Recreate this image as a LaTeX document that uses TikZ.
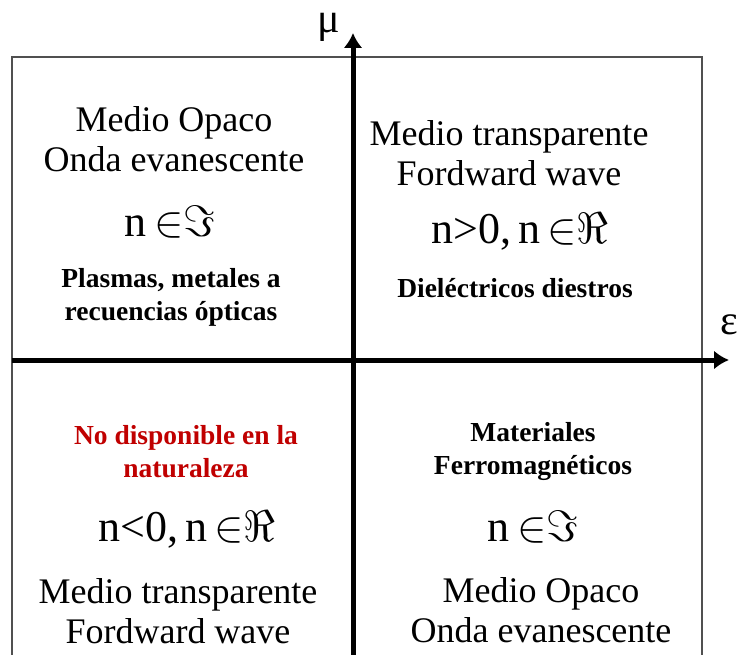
\RequirePackage{fix-cm}
\documentclass[tikz,border=0pt]{standalone}
\usepackage{fontspec}
\setmainfont{Liberation Serif}
\usetikzlibrary{arrows.meta}
\definecolor{frameGray}{HTML}{505050}
\definecolor{natRed}{HTML}{C00000}

\begin{document}
\begin{tikzpicture}[
  x=1pt, y=-1pt,
  >={Latex[length=15pt,width=19pt]},
  every node/.style={inner sep=0pt, align=center},
  plain/.style={font=\fontsize{36}{40}\selectfont},
  bold/.style={font=\fontsize{27.5}{33}\selectfont\bfseries},
  index/.style={font=\fontsize{44}{48}\selectfont},
  axis/.style={line width=5pt, ->}
]
  \useasboundingbox (0,0) rectangle (738,655);

  \coordinate (FB) at (12,655);
  \coordinate (FT) at (12,57);
  \coordinate (GT) at (702,57);
  \coordinate (GB) at (702,655);

  % Frame (open at the bottom)
  \draw[frameGray, line width=2pt] (FB) -- (FT) -- (GT) -- (GB);

  % Axes epsilon (horizontal) and mu (vertical)
  \coordinate (Xs) at (12,360);
  \coordinate (Xe) at (729,360);
  \coordinate (Ys) at (353,655);
  \coordinate (Ye) at (353,33);
  \draw[axis] (Xs) -- (Xe);
  \draw[axis] (Ys) -- (Ye);

  \node[font=\fontsize{42}{42}\selectfont] (mu) at (329,27) {μ};
  \node[font=\fontsize{42}{42}\selectfont] (eps) at (729,325) {ε};

  % Upper left quadrant
  \node[plain] (tlMedio) at (174,139) {Medio Opaco\\Onda evanescente};
  \node[index] (tlIndex) at (170,222) {n$\,{\in}\Im$};
  \node[bold] (tlMat) at (171,297) {Plasmas, metales a\\recuencias ópticas};

  % Upper right quadrant
  \node[plain] (trMedio) at (509,153) {Medio transparente\\Fordward wave};
  \node[index] (trIndex) at (520,232) {n>0,\,n$\,{\in}\Re$};
  \node[bold] (trMat) at (515,288) {Dieléctricos diestros};

  % Lower left quadrant
  \node[bold, text=natRed] (blMat) at (186,452) {No disponible en la\\naturaleza};
  \node[index] (blIndex) at (187,530) {n<0,\,n$\,{\in}\Re$};
  \node[plain] (blMedio) at (178,611) {Medio transparente\\Fordward wave};

  % Lower right quadrant
  \node[bold] (brMat) at (533,451) {Materiales\\Ferromagnéticos};
  \node[index] (brIndex) at (533,527) {n$\,{\in}\Im$};
  \node[plain] (brMedio) at (541,610) {Medio Opaco\\Onda evanescente};
\end{tikzpicture}
\end{document}
